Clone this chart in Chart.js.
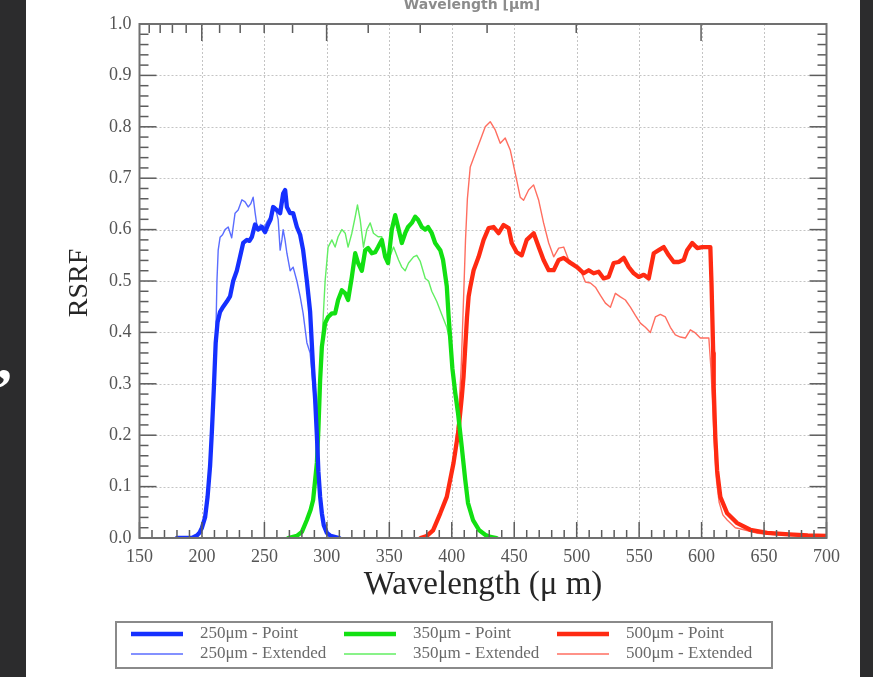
<!DOCTYPE html>
<html>
<head>
<meta charset="utf-8">
<title>SPIRE RSRF</title>
<script src="https://cdn.jsdelivr.net/npm/chart.js@4/dist/chart.umd.min.js"></script>
<style>
  html, body { margin: 0; padding: 0; background: #ffffff; }
  #wrap { position: relative; width: 873px; height: 677px; overflow: hidden; }
  canvas { display: block; }
</style>
</head>
<body>
<div id="wrap"><canvas id="rsrf" width="873" height="677"></canvas></div>
<script>
// ---- Axis ticks ----
const xTickValues = [150, 200, 250, 300, 350, 400, 450, 500, 550, 600, 650, 700];
const yTickValues = [0, 0.1, 0.2, 0.3, 0.4, 0.5, 0.6, 0.7, 0.8, 0.9, 1.0];
const xMinorStep = 10;
const yMinorStep = 0.02;
// frequency ticks along the top edge (GHz), major every 500 GHz
const topFreqTicks = [500, 600, 700, 800, 900, 1000, 1100, 1200, 1300, 1400, 1500, 1600, 1700, 1800, 1900, 2000];
const topFreqMajor = [500, 1000, 1500, 2000];

// ---- 250 um band ----
const pswPointWl = [180, 192, 196, 198, 200, 202.5, 204.5, 206.5, 208, 209.5, 211, 212.5, 214.5, 217, 219.9, 222.5, 225, 227.9, 230.5, 233, 236, 238, 240, 242.5, 245, 248, 250.5, 253, 255, 257, 260, 262.6, 265, 266.6, 268, 270.6, 273, 276, 278.6, 281, 284, 286.6, 289, 290.6, 292, 293.2, 294.6, 296, 297.5, 300, 303, 310];
const pswPointRsrf = [0, 0, 0.005, 0.01, 0.02, 0.04, 0.08, 0.14, 0.21, 0.29, 0.38, 0.42, 0.44, 0.45, 0.46, 0.47, 0.50, 0.52, 0.547, 0.574, 0.58, 0.578, 0.586, 0.61, 0.60, 0.605, 0.595, 0.61, 0.62, 0.644, 0.638, 0.632, 0.67, 0.677, 0.644, 0.632, 0.632, 0.605, 0.59, 0.56, 0.50, 0.44, 0.33, 0.27, 0.20, 0.13, 0.08, 0.048, 0.025, 0.01, 0.004, 0];
const pswExtWl = [180, 192, 196, 198, 200, 202.5, 204.5, 206.5, 208, 209.5, 211, 212, 213, 214.5, 216.5, 218.5, 221, 223.8, 226.5, 229, 232, 234.5, 237, 239, 241, 242.6, 244.5, 247, 250, 252, 254.6, 256.5, 258.6, 261, 262.6, 264, 265, 266.5, 268, 270.6, 273, 276, 278.6, 281, 284, 286.6, 289, 290.6, 292, 293.2, 294.6, 296, 297.5, 300, 303, 310];
const pswExtRsrf = [0, 0, 0.005, 0.01, 0.02, 0.04, 0.08, 0.14, 0.21, 0.29, 0.38, 0.50, 0.56, 0.585, 0.59, 0.60, 0.605, 0.584, 0.632, 0.638, 0.658, 0.654, 0.644, 0.65, 0.663, 0.632, 0.60, 0.61, 0.605, 0.615, 0.625, 0.63, 0.644, 0.62, 0.56, 0.58, 0.60, 0.58, 0.554, 0.52, 0.527, 0.50, 0.47, 0.437, 0.38, 0.36, 0.295, 0.25, 0.19, 0.12, 0.075, 0.045, 0.024, 0.01, 0.004, 0];

// ---- 350 um band ----
const pmwPointWl = [269, 276, 280, 284, 287, 289, 292, 293.2, 294.6, 296, 298.6, 301, 304, 306.6, 309, 312, 314.7, 317, 320, 322.7, 325, 328, 330.7, 333, 336, 338.7, 341, 344, 346.7, 349, 352, 354.7, 357, 360, 362.7, 365, 368, 370.7, 373, 376, 378.7, 381, 384, 386.7, 390.8, 393, 396, 397.5, 399, 400.5, 402.8, 405, 408, 410.8, 413, 417, 422, 427, 431, 436];
const pmwPointRsrf = [0, 0.004, 0.012, 0.035, 0.055, 0.074, 0.146, 0.21, 0.307, 0.372, 0.418, 0.43, 0.437, 0.437, 0.463, 0.482, 0.476, 0.463, 0.508, 0.554, 0.535, 0.52, 0.56, 0.564, 0.554, 0.556, 0.566, 0.58, 0.547, 0.535, 0.60, 0.628, 0.605, 0.574, 0.593, 0.605, 0.613, 0.625, 0.619, 0.605, 0.60, 0.605, 0.593, 0.574, 0.56, 0.541, 0.49, 0.43, 0.38, 0.33, 0.282, 0.243, 0.177, 0.113, 0.068, 0.035, 0.015, 0.006, 0.002, 0];
const pmwExtWl = [269, 276, 280, 284, 287, 289, 292, 293.2, 294.6, 296, 297.5, 298.6, 301, 304, 306.6, 309, 312, 314.7, 317, 320, 322.7, 324.5, 326.7, 329.3, 332, 334.7, 337.3, 341, 344, 346.7, 349.4, 353.4, 357.4, 360, 362.7, 365.4, 369.4, 372, 374.8, 378.8, 381.4, 384, 388, 392, 396, 398.8, 400.5, 402.8, 405, 408, 410.8, 413, 417, 422, 427, 431, 436];
const pmwExtRsrf = [0, 0.004, 0.012, 0.035, 0.055, 0.074, 0.146, 0.21, 0.307, 0.38, 0.45, 0.50, 0.566, 0.58, 0.566, 0.586, 0.60, 0.593, 0.566, 0.593, 0.625, 0.648, 0.619, 0.566, 0.60, 0.613, 0.593, 0.586, 0.586, 0.547, 0.541, 0.566, 0.541, 0.527, 0.52, 0.535, 0.547, 0.55, 0.538, 0.505, 0.50, 0.48, 0.46, 0.435, 0.41, 0.38, 0.33, 0.282, 0.243, 0.177, 0.113, 0.068, 0.035, 0.015, 0.006, 0.002, 0];

// ---- 500 um band ----
const plwPointWl = [375, 380, 385, 390.8, 396, 401.4, 405.4, 408, 409.4, 410.8, 412.2, 413.5, 414.8, 417.5, 421.5, 425.5, 429.5, 433.5, 437.5, 441.5, 445.5, 448, 452, 456, 460, 465.6, 469.6, 473.5, 477.6, 481.6, 485.6, 489.6, 495, 500.3, 505.6, 509.6, 513.6, 517.6, 521.6, 525.6, 529.6, 533.6, 537.7, 541.7, 545.7, 549.7, 553.7, 557.7, 561.7, 565.7, 569.7, 573.7, 577.7, 581.7, 585.7, 588.4, 592.5, 596.5, 600.5, 604.5, 607, 608, 609.3, 609.7, 611, 612.4, 615, 620.5, 628.5, 639, 652.5, 670, 685, 700];
const plwPointRsrf = [0, 0.004, 0.015, 0.048, 0.08, 0.146, 0.21, 0.274, 0.313, 0.372, 0.43, 0.47, 0.488, 0.521, 0.547, 0.58, 0.603, 0.605, 0.593, 0.609, 0.603, 0.574, 0.556, 0.55, 0.58, 0.593, 0.566, 0.541, 0.521, 0.521, 0.541, 0.545, 0.535, 0.527, 0.515, 0.521, 0.515, 0.518, 0.505, 0.508, 0.535, 0.537, 0.545, 0.527, 0.515, 0.508, 0.512, 0.505, 0.554, 0.56, 0.566, 0.55, 0.537, 0.537, 0.541, 0.56, 0.574, 0.564, 0.566, 0.566, 0.566, 0.49, 0.36, 0.294, 0.196, 0.132, 0.08, 0.048, 0.029, 0.016, 0.01, 0.007, 0.005, 0.004];
const plwExtWl = [375, 380, 385, 390.8, 396, 401.4, 405.4, 407.5, 409.4, 411, 412.5, 414.8, 418.8, 422.8, 426.8, 430.8, 434.8, 438.8, 442.8, 446.8, 450.8, 454.8, 457.5, 461.5, 465.5, 469.6, 473.5, 477.6, 481.6, 485.6, 489.6, 493.6, 497.6, 503, 507, 511, 515, 519, 523, 527, 531, 535, 539, 543, 547, 551, 555, 559, 563, 567, 571, 575, 579, 583, 587, 591, 595, 599, 603, 605.8, 607.5, 609, 610.5, 612, 614, 617, 620.5, 627, 634, 645, 660, 680, 700];
const plwExtRsrf = [0, 0.004, 0.015, 0.048, 0.08, 0.146, 0.24, 0.33, 0.463, 0.58, 0.66, 0.722, 0.748, 0.774, 0.80, 0.81, 0.794, 0.768, 0.778, 0.755, 0.71, 0.663, 0.657, 0.677, 0.687, 0.657, 0.613, 0.574, 0.547, 0.564, 0.566, 0.541, 0.535, 0.521, 0.498, 0.496, 0.488, 0.472, 0.457, 0.449, 0.476, 0.469, 0.463, 0.449, 0.433, 0.418, 0.41, 0.40, 0.43, 0.435, 0.43, 0.41, 0.395, 0.391, 0.389, 0.405, 0.399, 0.389, 0.389, 0.389, 0.33, 0.25, 0.17, 0.11, 0.07, 0.045, 0.035, 0.02, 0.016, 0.009, 0.006, 0.004, 0.003];

const seriesLabels = ['250\u03bcm - Point', '250\u03bcm - Extended', '350\u03bcm - Point', '350\u03bcm - Extended', '500\u03bcm - Point', '500\u03bcm - Extended'];

const SERIF = '"Liberation Serif", "Times New Roman", serif';
const toXY = (wl, r) => wl.map((w, i) => ({ x: w, y: r[i] }));

function band(label, wl, r, color, width, order) {
  return {
    label, data: toXY(wl, r), borderColor: color, backgroundColor: color,
    borderWidth: width, pointRadius: 0, tension: 0, fill: false,
    borderJoinStyle: 'round', borderCapStyle: 'round', order
  };
}

const datasets = [
  band(seriesLabels[0], pswPointWl, pswPointRsrf, '#1530ff', 4.3, 0),
  band(seriesLabels[1], pswExtWl, pswExtRsrf, '#5a6dff', 1.4, 3),
  band(seriesLabels[2], pmwPointWl, pmwPointRsrf, '#12e012', 4.3, 1),
  band(seriesLabels[3], pmwExtWl, pmwExtRsrf, '#62ee62', 1.4, 4),
  band(seriesLabels[4], plwPointWl, plwPointRsrf, '#ff2a12', 4.3, 2),
  band(seriesLabels[5], plwExtWl, plwExtRsrf, '#ff6e60', 1.4, 5)
];

const decor = {
  id: 'decor',
  beforeDraw(chart) {
    const { ctx, width, height } = chart;
    ctx.save();
    ctx.fillStyle = '#ffffff';
    ctx.fillRect(0, 0, width, height);
    ctx.fillStyle = '#2c2c2d';
    ctx.fillRect(0, 0, 26, height);
    ctx.fillRect(860, 0, width - 860, height);
    ctx.fillStyle = '#ffffff';
    ctx.font = 'bold 60px ' + SERIF;
    ctx.textAlign = 'left';
    ctx.textBaseline = 'alphabetic';
    ctx.fillText(',', -3, 379);
    ctx.fillStyle = '#8c8c8c';
    ctx.font = 'bold 14px "DejaVu Sans", sans-serif';
    ctx.textAlign = 'center';
    ctx.fillText('Wavelength [\u03bcm]', 472, 9);
    ctx.restore();
  },
  beforeDatasetsDraw(chart) {
    const { ctx, chartArea: a, scales: { x, y } } = chart;
    ctx.save();
    ctx.strokeStyle = '#c4c4c4';
    ctx.lineWidth = 1;
    ctx.setLineDash([2, 2]);
    xTickValues.slice(1, -1).forEach(v => {
      const px = Math.round(x.getPixelForValue(v)) + 0.5;
      ctx.beginPath(); ctx.moveTo(px, a.top); ctx.lineTo(px, a.bottom); ctx.stroke();
    });
    yTickValues.slice(1, -1).forEach(v => {
      const py = Math.round(y.getPixelForValue(v)) + 0.5;
      ctx.beginPath(); ctx.moveTo(a.left, py); ctx.lineTo(a.right, py); ctx.stroke();
    });
    ctx.restore();
  },
  afterDatasetsDraw(chart) {
    const { ctx, chartArea: a, scales: { x, y } } = chart;
    ctx.save();
    ctx.strokeStyle = '#5c5c5c';
    ctx.lineWidth = 1.5;
    const seg = (x1, y1, x2, y2) => { ctx.beginPath(); ctx.moveTo(x1, y1); ctx.lineTo(x2, y2); ctx.stroke(); };
    // bottom axis: inward ticks
    for (let v = 150; v <= 700 + 1e-6; v += xMinorStep) {
      const px = x.getPixelForValue(v);
      const major = xTickValues.includes(Math.round(v));
      seg(px, a.bottom, px, a.bottom - (major ? 16 : 8));
    }
    // left and right axes
    for (let k = 0; k <= 50; k++) {
      const v = k * yMinorStep;
      const py = y.getPixelForValue(v);
      const major = k % 5 === 0;
      const len = major ? 17 : 9;
      seg(a.left, py, a.left + len, py);
      seg(a.right, py, a.right - len, py);
    }
    // top axis: frequency scale
    topFreqTicks.forEach(f => {
      const wl = 299792.458 / f;
      if (wl < 150 || wl > 700) return;
      const px = x.getPixelForValue(wl);
      seg(px, a.top, px, a.top + (topFreqMajor.includes(f) ? 17 : 9));
    });
    // frame
    ctx.strokeStyle = '#707070';
    ctx.lineWidth = 2;
    ctx.strokeRect(a.left, a.top, a.right - a.left, a.bottom - a.top);
    ctx.restore();
  },
  afterDraw(chart) {
    const { ctx, chartArea: a } = chart;
    ctx.save();
    // axis titles
    ctx.fillStyle = '#262626';
    ctx.textAlign = 'center';
    ctx.textBaseline = 'alphabetic';
    ctx.font = '33px ' + SERIF;
    ctx.fillText('Wavelength (\u03bc m)', (a.left + a.right) / 2, 594);
    ctx.save();
    ctx.translate(87, (a.top + a.bottom) / 2 + 2);
    ctx.rotate(-Math.PI / 2);
    ctx.font = '28px ' + SERIF;
    ctx.fillText('RSRF', 0, 0);
    ctx.restore();

    // legend box: three columns, point on top row, extended below
    ctx.fillStyle = '#ffffff';
    ctx.fillRect(116, 622, 656, 46);
    ctx.strokeStyle = '#8a8a8a';
    ctx.lineWidth = 2;
    ctx.strokeRect(116, 622, 656, 46);
    const colX = [131, 344, 557];
    const rowY = [634, 654];
    ctx.font = '17px ' + SERIF;
    ctx.textAlign = 'left';
    ctx.textBaseline = 'middle';
    chart.data.datasets.forEach((ds, i) => {
      const cx = colX[Math.floor(i / 2)];
      const cy = rowY[i % 2];
      ctx.strokeStyle = ds.borderColor;
      ctx.lineWidth = ds.borderWidth;
      ctx.beginPath(); ctx.moveTo(cx, cy); ctx.lineTo(cx + 52, cy); ctx.stroke();
      ctx.fillStyle = '#6a6a6a';
      ctx.fillText(ds.label, cx + 69, cy);
    });
    ctx.restore();
  }
};

const tickFont = { family: SERIF, size: 18 };

new Chart(document.getElementById('rsrf'), {
  type: 'line',
  data: { datasets },
  plugins: [decor],
  options: {
    responsive: false,
    animation: false,
    devicePixelRatio: 1,
    layout: { padding: { top: 24, right: 46.5, bottom: 109, left: 0 } },
    plugins: { legend: { display: false }, tooltip: { enabled: false } },
    scales: {
      x: {
        type: 'linear', min: 150, max: 700,
        afterBuildTicks: s => { s.ticks = xTickValues.map(v => ({ value: v })); },
        afterFit: s => { s.height = 30; },
        grid: { display: false, drawTicks: false },
        border: { display: false },
        ticks: { font: tickFont, color: '#555555', padding: 8, maxRotation: 0, autoSkip: false, callback: v => String(v) }
      },
      y: {
        type: 'linear', min: 0, max: 1,
        afterBuildTicks: s => { s.ticks = yTickValues.map(v => ({ value: v })); },
        afterFit: s => { s.width = 139.5; },
        grid: { display: false, drawTicks: false },
        border: { display: false },
        ticks: { font: tickFont, color: '#555555', padding: 8, autoSkip: false, callback: v => v.toFixed(1) }
      }
    }
  }
});
</script>
</body>
</html>
